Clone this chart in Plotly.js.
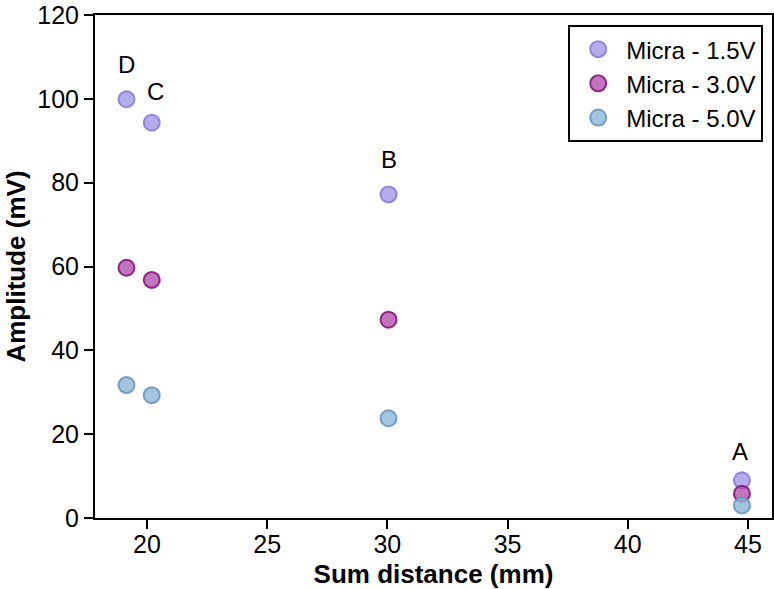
<!DOCTYPE html>
<html>
<head>
<meta charset="utf-8">
<script src="https://cdn.plot.ly/plotly-3.0.1.min.js"></script>
<style>
  html, body { margin: 0; padding: 0; background: #fff; }
  #chart { width: 774px; height: 589px; }
</style>
</head>
<body>
<div id="chart"></div>
<script>
// Electrode positions A-D: summed distance (mm) and measured amplitude (mV)
const positions = ['D', 'C', 'B', 'A'];
const sumDistance = [19.15, 20.2, 30.05, 44.75];
const amp15V = [99.9, 94.3, 77.2, 9.0];
const amp30V = [59.7, 56.8, 47.3, 5.8];
const amp50V = [31.7, 29.3, 23.8, 3.0];
const seriesNames = ['Micra - 1.5V', 'Micra - 3.0V', 'Micra - 5.0V'];
const xTicks = [20, 25, 30, 35, 40, 45];
const yTicks = [0, 20, 40, 60, 80, 100, 120];

const FONT = 'Liberation Sans, Arial, Helvetica, sans-serif';

function series(name, y, fill, edge) {
  return {
    type: 'scatter',
    mode: 'markers',
    name: name,
    x: sumDistance,
    y: y,
    marker: { size: 16, color: fill, line: { color: edge, width: 2 } },
    hoverinfo: 'x+y+name'
  };
}

const traces = [
  series(seriesNames[0], amp15V, 'rgba(160,150,230,0.78)', 'rgba(135,125,215,0.9)'),
  series(seriesNames[1], amp30V, 'rgba(180,75,170,0.78)', 'rgba(135,20,125,0.9)'),
  series(seriesNames[2], amp50V, 'rgba(140,182,215,0.8)', 'rgba(105,150,192,0.9)')
];

// Position letters sit above the topmost (1.5 V) point of each group
const labels = positions.map((p, i) => ({
  x: sumDistance[i],
  y: amp15V[i],
  xref: 'x', yref: 'y',
  text: p,
  showarrow: false,
  xanchor: 'center', yanchor: 'middle',
  xshift: i === 1 ? 4 : (i === 3 ? -2 : 0),
  yshift: i === 1 ? 31 : (i === 3 ? 29 : 35),
  font: { family: FONT, size: 24, color: '#000' }
}));

const layout = {
  width: 774,
  height: 589,
  margin: { l: 95, r: 2, t: 15, b: 71, pad: 0 },
  paper_bgcolor: '#fff',
  plot_bgcolor: '#fff',
  font: { family: FONT, color: '#000' },
  showlegend: true,
  legend: {
    x: 0.987, y: 0.98, xanchor: 'right', yanchor: 'top',
    bgcolor: '#fff', bordercolor: '#000', borderwidth: 2,
    font: { family: FONT, size: 24, color: '#000' },
    itemwidth: 46,
    tracegroupgap: 0
  },
  xaxis: {
    range: [17.84, 46.0],
    tickvals: xTicks,
    ticktext: xTicks.map(String),
    ticks: 'outside', ticklen: 9, tickwidth: 2, tickcolor: '#000',
    ticklabelstandoff: -6,
    showline: true, linecolor: '#000', linewidth: 2, mirror: true,
    showgrid: false, zeroline: false,
    tickfont: { family: FONT, size: 25, color: '#000' },
    title: { text: '<b>Sum distance (mm)</b>', font: { family: FONT, size: 26, color: '#000' }, standoff: 8 }
  },
  yaxis: {
    range: [0, 120],
    tickvals: yTicks,
    ticktext: yTicks.map(String),
    ticks: 'outside', ticklen: 9, tickwidth: 2, tickcolor: '#000',
    showline: true, linecolor: '#000', linewidth: 2, mirror: true,
    showgrid: false, zeroline: false,
    tickfont: { family: FONT, size: 25, color: '#000' },
    title: { text: '<b>Amplitude (mV)</b>', font: { family: FONT, size: 26, color: '#000' }, standoff: 4 }
  },
  annotations: labels
};

Plotly.newPlot('chart', traces, layout, { displayModeBar: false, staticPlot: true });
</script>
</body>
</html>
